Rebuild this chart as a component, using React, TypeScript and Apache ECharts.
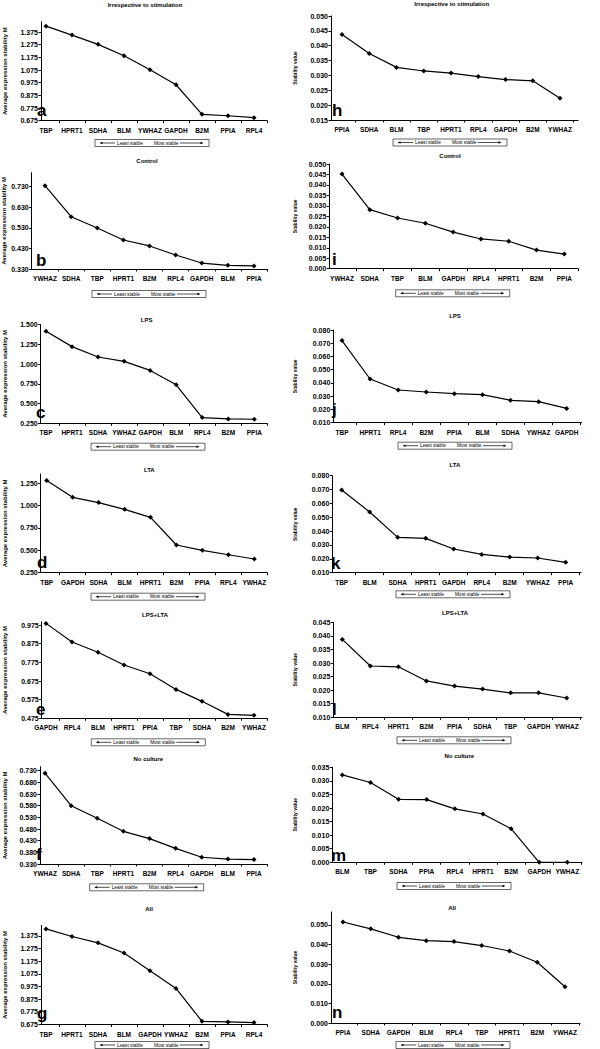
import React, { useEffect, useRef } from "react";
import * as echarts from "echarts";

const FONT = "'Liberation Sans', Arial, Helvetica, sans-serif";
const LEFT_Y_NAME = "Average expression stability M";
const RIGHT_Y_NAME = "Stability value";
const LEGEND_LEFT = "Least stable";
const LEGEND_RIGHT = "Most stable";

// ---------- data ----------
const aTitle = "Irrespective to stimulation";
const aCategories = ["TBP", "HPRT1", "SDHA", "BLM", "YWHAZ", "GAPDH", "B2M", "PPIA", "RPL4"];
const aValues = [1.422, 1.351, 1.278, 1.188, 1.078, 0.959, 0.725, 0.714, 0.699];
const aTicks = [0.675, 0.775, 0.875, 0.975, 1.075, 1.175, 1.275, 1.375];

const bTitle = "Control";
const bCategories = ["YWHAZ", "SDHA", "TBP", "HPRT1", "B2M", "RPL4", "GAPDH", "BLM", "PPIA"];
const bValues = [0.735, 0.584, 0.529, 0.471, 0.442, 0.398, 0.359, 0.348, 0.345];
const bTicks = [0.33, 0.43, 0.53, 0.63, 0.73];

const cTitle = "LPS";
const cCategories = ["TBP", "HPRT1", "SDHA", "YWHAZ", "GAPDH", "BLM", "RPL4", "B2M", "PPIA"];
const cValues = [1.415, 1.22, 1.089, 1.034, 0.919, 0.737, 0.322, 0.305, 0.301];
const cTicks = [0.25, 0.5, 0.75, 1.0, 1.25, 1.5];

const dTitle = "LTA";
const dCategories = ["TBP", "GAPDH", "SDHA", "BLM", "HPRT1", "B2M", "PPIA", "RPL4", "YWHAZ"];
const dValues = [1.28, 1.093, 1.034, 0.959, 0.869, 0.56, 0.5, 0.451, 0.403];
const dTicks = [0.25, 0.5, 0.75, 1.0, 1.25];

const eTitle = "LPS+LTA";
const eCategories = ["GAPDH", "RPL4", "BLM", "HPRT1", "PPIA", "TBP", "SDHA", "B2M", "YWHAZ"];
const eValues = [0.984, 0.884, 0.829, 0.761, 0.714, 0.63, 0.566, 0.496, 0.491];
const eTicks = [0.475, 0.575, 0.675, 0.775, 0.875, 0.975];

const fTitle = "No culture";
const fCategories = ["YWHAZ", "SDHA", "TBP", "HPRT1", "B2M", "RPL4", "GAPDH", "BLM", "PPIA"];
const fValues = [0.719, 0.58, 0.526, 0.47, 0.439, 0.397, 0.359, 0.351, 0.349];
const fTicks = [0.33, 0.38, 0.43, 0.48, 0.53, 0.58, 0.63, 0.68, 0.73];

const gTitle = "All";
const gCategories = ["TBP", "HPRT1", "SDHA", "BLM", "GAPDH", "YWHAZ", "B2M", "PPIA", "RPL4"];
const gValues = [1.43, 1.37, 1.32, 1.24, 1.1, 0.96, 0.7, 0.695, 0.69];
const gTicks = [0.675, 0.775, 0.875, 0.975, 1.075, 1.175, 1.275, 1.375];

const hTitle = "Irrespective to stimulation";
const hCategories = ["PPIA", "SDHA", "BLM", "TBP", "HPRT1", "RPL4", "GAPDH", "B2M", "YWHAZ"];
const hValues = [0.0438, 0.0374, 0.0327, 0.0315, 0.0308, 0.0296, 0.0286, 0.0282, 0.0223];
const hTicks = [0.015, 0.02, 0.025, 0.03, 0.035, 0.04, 0.045, 0.05];

const iTitle = "Control";
const iCategories = ["YWHAZ", "SDHA", "TBP", "BLM", "GAPDH", "RPL4", "HPRT1", "B2M", "PPIA"];
const iValues = [0.0452, 0.0282, 0.0242, 0.0217, 0.0175, 0.0142, 0.0131, 0.0089, 0.007];
const iTicks = [0.0, 0.005, 0.01, 0.015, 0.02, 0.025, 0.03, 0.035, 0.04, 0.045, 0.05];

const jTitle = "LPS";
const jCategories = ["TBP", "HPRT1", "RPL4", "B2M", "PPIA", "BLM", "SDHA", "YWHAZ", "GAPDH"];
const jValues = [0.072, 0.043, 0.0347, 0.0332, 0.0319, 0.0312, 0.0269, 0.0259, 0.0208];
const jTicks = [0.01, 0.02, 0.03, 0.04, 0.05, 0.06, 0.07, 0.08];

const kTitle = "LTA";
const kCategories = ["TBP", "BLM", "SDHA", "HPRT1", "GAPDH", "RPL4", "B2M", "YWHAZ", "PPIA"];
const kValues = [0.0697, 0.0538, 0.0355, 0.0348, 0.0271, 0.0232, 0.0213, 0.0206, 0.0175];
const kTicks = [0.01, 0.02, 0.03, 0.04, 0.05, 0.06, 0.07, 0.08];

const lTitle = "LPS+LTA";
const lCategories = ["BLM", "RPL4", "HPRT1", "B2M", "PPIA", "SDHA", "TBP", "GAPDH", "YWHAZ"];
const lValues = [0.0387, 0.0289, 0.0286, 0.0234, 0.0215, 0.0204, 0.019, 0.019, 0.0171];
const lTicks = [0.01, 0.015, 0.02, 0.025, 0.03, 0.035, 0.04, 0.045];

const mTitle = "No culture";
const mCategories = ["BLM", "TBP", "SDHA", "PPIA", "RPL4", "HPRT1", "B2M", "GAPDH", "YWHAZ"];
const mValues = [0.0322, 0.0294, 0.0232, 0.0231, 0.0197, 0.0178, 0.0124, 0.0, 0.0];
const mTicks = [0.0, 0.005, 0.01, 0.015, 0.02, 0.025, 0.03, 0.035];

const nTitle = "All";
const nCategories = ["PPIA", "SDHA", "GAPDH", "BLM", "RPL4", "TBP", "HPRT1", "B2M", "YWHAZ"];
const nValues = [0.0515, 0.048, 0.0437, 0.042, 0.0415, 0.0395, 0.0367, 0.031, 0.0185];
const nTicks = [0.0, 0.01, 0.02, 0.03, 0.04, 0.05];

// ---------- layout (pixels) ----------
type Layout = {
  axisX: number; axisEnd: number; top: number; bottom: number;
  first: number; last: number; axisMax: number;
  titleX: number; titleY: number; letterX: number; letterBase: number;
  legendX: number; legendY: number;
};

const L = (axisX: number, axisEnd: number, top: number, bottom: number, first: number, last: number,
  axisMax: number, titleX: number, titleY: number, letterX: number, letterBase: number,
  legendX: number, legendY: number): Layout =>
  ({ axisX, axisEnd, top, bottom, first, last, axisMax, titleX, titleY, letterX, letterBase, legendX, legendY });

const panels = [
  { letter: "a", side: "left", title: aTitle, categories: aCategories, values: aValues, ticks: aTicks,
    layout: L(41, 267, 21.7, 120.7, 46, 254, 1.457, 145, 5, 37, 116.7, 152, 143) },
  { letter: "b", side: "left", title: bTitle, categories: bCategories, values: bValues, ticks: bTicks,
    layout: L(31.7, 267, 172.7, 269, 45, 254, 0.798, 147, 160.7, 36, 266.7, 149, 294) },
  { letter: "c", side: "left", title: cTitle, categories: cCategories, values: cValues, ticks: cTicks,
    layout: L(40.7, 267, 324.5, 423.3, 46, 254.3, 1.5, 146.7, 320, 36, 418.3, 148, 446.7) },
  { letter: "d", side: "left", title: dTitle, categories: dCategories, values: dValues, ticks: dTicks,
    layout: L(40.7, 267, 474, 572.7, 46.7, 254.3, 1.354, 149.3, 470, 37, 568.3, 148, 596.7) },
  { letter: "e", side: "left", title: eTitle, categories: eCategories, values: eValues, ticks: eTicks,
    layout: L(41.7, 267, 621.7, 718.3, 46, 254, 0.993, 155, 615, 36, 715, 148.3, 742.3) },
  { letter: "f", side: "left", title: fTitle, categories: fCategories, values: fValues, ticks: fTicks,
    layout: L(40, 267, 766.7, 864, 45, 254, 0.747, 148.3, 759.3, 36, 860, 146.7, 887.3) },
  { letter: "g", side: "left", title: gTitle, categories: gCategories, values: gValues, ticks: gTicks,
    layout: L(41, 267, 925.5, 1024.5, 46, 254, 1.457, 149, 909, 37, 1019, 152, 1045) },
  { letter: "h", side: "right", title: hTitle, categories: hCategories, values: hValues, ticks: hTicks,
    layout: L(331, 578, 16, 120, 342, 560, 0.05, 451.7, 4.3, 332, 116.7, 450, 142.5) },
  { letter: "i", side: "right", title: iTitle, categories: iCategories, values: iValues, ticks: iTicks,
    layout: L(329.3, 578, 164, 268.7, 342, 564.3, 0.05, 450, 156, 332, 265, 452.7, 293.3) },
  { letter: "j", side: "right", title: jTitle, categories: jCategories, values: jValues, ticks: jTicks,
    layout: L(333.3, 581.7, 330, 422.7, 342, 566.7, 0.08, 455, 316, 332, 415, 455, 445.7) },
  { letter: "k", side: "right", title: kTitle, categories: kCategories, values: kValues, ticks: kTicks,
    layout: L(332.3, 581, 475.7, 572.7, 341.7, 565.7, 0.08, 455, 465, 331, 569.3, 453, 594.3) },
  { letter: "l", side: "right", title: lTitle, categories: lCategories, values: lValues, ticks: lTicks,
    layout: L(333.3, 582, 622.3, 717.3, 342.3, 566.7, 0.045, 455, 613.3, 332, 715, 454, 740.3) },
  { letter: "m", side: "right", title: mTitle, categories: mCategories, values: mValues, ticks: mTicks,
    layout: L(332.3, 582, 767.3, 862.3, 342.3, 567.3, 0.035, 459.3, 756, 331, 861, 454, 886) },
  { letter: "n", side: "right", title: nTitle, categories: nCategories, values: nValues, ticks: nTicks,
    layout: L(331, 580, 912, 1023, 343, 565, 0.0566, 452, 908, 332, 1018, 453, 1045) },
];

function legendElements(cx: number, cy: number) {
  const bx = cx - 57;
  const w = 114;
  const h = 7;
  const els: any[] = [];
  els.push({ type: "rect", silent: true, shape: { x: bx, y: cy - h / 2, width: w, height: h },
    style: { fill: "#fff", stroke: "#000", lineWidth: 0.6 } });
  els.push({ type: "line", silent: true, shape: { x1: bx + 6, y1: cy, x2: bx + 20, y2: cy },
    style: { stroke: "#000", lineWidth: 0.7 } });
  els.push({ type: "polygon", silent: true, shape: { points: [[bx + 4.5, cy], [bx + 7.5, cy - 1.3], [bx + 7.5, cy + 1.3]] },
    style: { fill: "#000" } });
  els.push({ type: "text", silent: true, x: bx + 22, y: cy,
    style: { text: LEGEND_LEFT, fontSize: 4.8, fontFamily: FONT, fill: "#000", align: "left", verticalAlign: "middle" } });
  els.push({ type: "text", silent: true, x: bx + 59, y: cy,
    style: { text: LEGEND_RIGHT, fontSize: 4.8, fontFamily: FONT, fill: "#000", align: "left", verticalAlign: "middle" } });
  els.push({ type: "line", silent: true, shape: { x1: bx + 85, y1: cy, x2: bx + 107, y2: cy },
    style: { stroke: "#000", lineWidth: 0.7 } });
  els.push({ type: "polygon", silent: true, shape: { points: [[bx + 108.5, cy], [bx + 105.5, cy - 1.3], [bx + 105.5, cy + 1.3]] },
    style: { fill: "#000" } });
  return els;
}

function buildOption() {
  const grid: any[] = [];
  const xAxis: any[] = [];
  const yAxis: any[] = [];
  const series: any[] = [];
  const graphics: any[] = [];
  const black = { color: "#000", width: 1 };

  panels.forEach((p, i) => {
    const lay = p.layout;
    const n = p.categories.length;
    const s = (lay.last - lay.first) / (n - 1);
    const height = lay.bottom - lay.top;
    const ticks = p.ticks;
    const min = ticks[0];
    const interval = Math.round((ticks[1] - ticks[0]) * 1e6) / 1e6;
    const max = lay.axisMax;
    const maxIsTick = Math.abs(max - ticks[ticks.length - 1]) < 1e-9;
    const isLeft = p.side === "left";
    const nameFont = isLeft ? 6 : 5;
    const nameX = isLeft ? 5 : 295;
    const fi = 2 * i;
    const di = 2 * i + 1;

    grid.push({ left: lay.axisX, top: lay.top, width: lay.axisEnd - lay.axisX, height, containLabel: false, outerBoundsMode: "none" });
    grid.push({ left: lay.first - s / 2, top: lay.top, width: s * n, height, containLabel: false, outerBoundsMode: "none" });

    xAxis.push({
      gridIndex: fi, type: "value", min: 0, max: 1,
      axisLine: { show: true, onZero: false, lineStyle: black },
      axisTick: { show: false }, axisLabel: { show: false }, splitLine: { show: false },
    });
    xAxis.push({
      gridIndex: di, type: "category", data: p.categories, boundaryGap: true,
      axisLine: { show: false, onZero: false },
      axisTick: { show: true, length: 2.5, interval: (idx: number) => idx !== 0, lineStyle: black },
      axisLabel: { interval: 0, margin: 6, fontSize: 6.5, fontWeight: "bold", color: "#000", fontFamily: FONT },
      splitLine: { show: false },
    });
    yAxis.push({
      gridIndex: fi, type: "value", min, max, interval,
      name: isLeft ? LEFT_Y_NAME : RIGHT_Y_NAME,
      nameLocation: "middle",
      nameGap: lay.axisX - nameX - nameFont / 2,
      nameTextStyle: { fontSize: nameFont, fontWeight: "bold", color: "#000", fontFamily: FONT },
      axisLine: { show: true, onZero: false, lineStyle: black },
      axisTick: { show: true, length: 2.5, lineStyle: black },
      axisLabel: {
        margin: 3, fontSize: 7, fontWeight: "bold", color: "#000", fontFamily: FONT,
        formatter: (v: number) => v.toFixed(3), showMaxLabel: maxIsTick, showMinLabel: true,
      },
      splitLine: { show: false },
    });
    yAxis.push({ gridIndex: di, type: "value", min, max, show: false, splitLine: { show: false } });

    series.push({
      type: "line", xAxisIndex: di, yAxisIndex: di, data: p.values,
      symbol: "diamond", symbolSize: 5, showSymbol: true,
      lineStyle: { color: "#000", width: 1.2 }, itemStyle: { color: "#000" },
      silent: true, z: 3,
    });

    graphics.push({
      type: "text", silent: true, x: lay.titleX, y: lay.titleY,
      style: { text: p.title, fontSize: 6, fontWeight: "bold", fontFamily: FONT, fill: "#000", align: "center", verticalAlign: "middle" },
    });
    graphics.push({
      type: "text", silent: true, x: lay.letterX, y: lay.letterBase - 5.9,
      style: { text: p.letter, fontSize: 17, fontWeight: "bold", fontFamily: FONT, fill: "#000", align: "left", verticalAlign: "middle" },
    });
    legendElements(lay.legendX, lay.legendY).forEach((e) => graphics.push(e));
  });

  return {
    animation: false,
    backgroundColor: "#fff",
    textStyle: { fontFamily: FONT },
    grid, xAxis, yAxis, series,
    graphic: { elements: graphics },
  };
}

export default function App() {
  const ref = useRef<HTMLDivElement>(null);
  useEffect(() => {
    if (!ref.current) return;
    const chart = echarts.init(ref.current, undefined, { renderer: "svg" });
    chart.setOption(buildOption() as any);
    return () => chart.dispose();
  }, []);
  return (
    <div
      ref={ref}
      style={{ position: "absolute", left: 0, top: 0, width: 600, height: 1049, background: "#fff" }}
    />
  );
}
